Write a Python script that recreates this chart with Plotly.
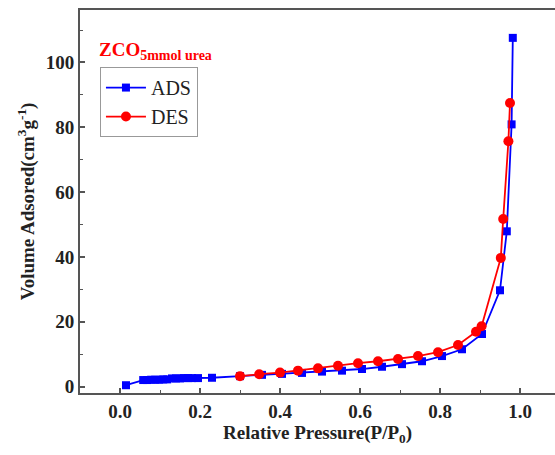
import plotly.graph_objects as go

# ADS (adsorption) branch
ads_x = [0.015, 0.058, 0.068, 0.078, 0.088, 0.098, 0.108, 0.118, 0.13, 0.14, 0.15, 0.16, 0.17, 0.18, 0.195,
         0.23, 0.30, 0.355, 0.405, 0.455, 0.505, 0.555, 0.605, 0.655, 0.705, 0.755, 0.805, 0.855, 0.905,
         0.95, 0.967, 0.979, 0.982]
ads_y = [0.4, 2.0, 2.0, 2.1, 2.1, 2.1, 2.2, 2.2, 2.5, 2.5, 2.5, 2.6, 2.6, 2.6, 2.6,
         2.7, 3.2, 3.6, 3.9, 4.2, 4.6, 4.9, 5.4, 6.1, 6.9, 7.8, 9.4, 11.5, 16.2,
         29.7, 47.9, 80.9, 107.6]

# DES (desorption) branch
des_x = [0.975, 0.971, 0.958, 0.952, 0.904, 0.89, 0.845, 0.795, 0.745, 0.695, 0.645, 0.595, 0.545,
         0.495, 0.445, 0.40, 0.348, 0.30]
des_y = [87.5, 75.7, 51.7, 39.7, 18.6, 16.9, 12.8, 10.6, 9.4, 8.5, 7.8, 7.2, 6.4,
         5.6, 4.9, 4.3, 3.8, 3.2]

x_ticks = [0.0, 0.2, 0.4, 0.6, 0.8, 1.0]
x_tick_labels = ["0.0", "0.2", "0.4", "0.6", "0.8", "1.0"]
y_ticks = [0, 20, 40, 60, 80, 100]
y_tick_labels = ["0", "20", "40", "60", "80", "100"]

FONT = "Liberation Serif"
AXC = "#555555"

fig = go.Figure()
fig.add_trace(go.Scatter(x=ads_x, y=ads_y, name="ADS", mode="lines+markers",
                         line=dict(color="#0000ff", width=1.8),
                         marker=dict(symbol="square", size=8, color="#0000ff")))
fig.add_trace(go.Scatter(x=des_x, y=des_y, name="DES", mode="lines+markers",
                         line=dict(color="#ff0000", width=1.8),
                         marker=dict(symbol="circle", size=10, color="#ff0000")))

fig.update_layout(
    width=555, height=455,
    margin=dict(l=80, r=0, t=10, b=62),
    paper_bgcolor="white", plot_bgcolor="white",
    font=dict(family=FONT, color="black"),
    showlegend=True,
    legend=dict(x=0.042, y=0.851, xanchor="left", yanchor="top",
                bordercolor="#999999", borderwidth=1, bgcolor="white",
                font=dict(family=FONT, size=20, color="#222222"),
                tracegroupgap=0, itemwidth=40),
    annotations=[dict(
        x=0.036, y=0.93, xref="paper", yref="paper", xanchor="left", yanchor="top",
        showarrow=False,
        text="<b>ZCO<sub><span style='font-size:14px'>5mmol urea</span></sub></b>",
        font=dict(family=FONT, size=19, color="#ff0000"))],
)

fig.update_xaxes(
    range=[-0.1, 1.0875], tickvals=x_ticks, ticktext=x_tick_labels,
    ticks="inside", ticklen=5, tickwidth=1.5, tickcolor=AXC,
    showline=True, linecolor=AXC, linewidth=2, mirror=True,
    showgrid=False, zeroline=False,
    tickfont=dict(family=FONT, size=19, color="#222222", weight="bold"),
    minor=dict(dtick=0.1, tick0=0, ticks="inside", ticklen=3, tickwidth=1.2, tickcolor=AXC),
    title=dict(text="<b>Relative Pressure(P/P<sub>0</sub>)</b>",
               font=dict(family=FONT, size=19, color="#222222"), standoff=4),
)
fig.update_yaxes(
    range=[-2.0, 116.2], tickvals=y_ticks, ticktext=y_tick_labels,
    ticks="inside", ticklen=5, tickwidth=1.5, tickcolor=AXC,
    showline=True, linecolor=AXC, linewidth=2, mirror=False,
    showgrid=False, zeroline=False,
    tickfont=dict(family=FONT, size=19, color="#222222", weight="bold"),
    minor=dict(dtick=10, tick0=0, ticks="inside", ticklen=3, tickwidth=1.2, tickcolor=AXC),
    title=dict(text="<b>Volume Adsored(cm<sup>3</sup>g<sup>-1</sup>)</b>",
               font=dict(family=FONT, size=19, color="#222222"), standoff=6),
)

fig.write_html("out.html")
